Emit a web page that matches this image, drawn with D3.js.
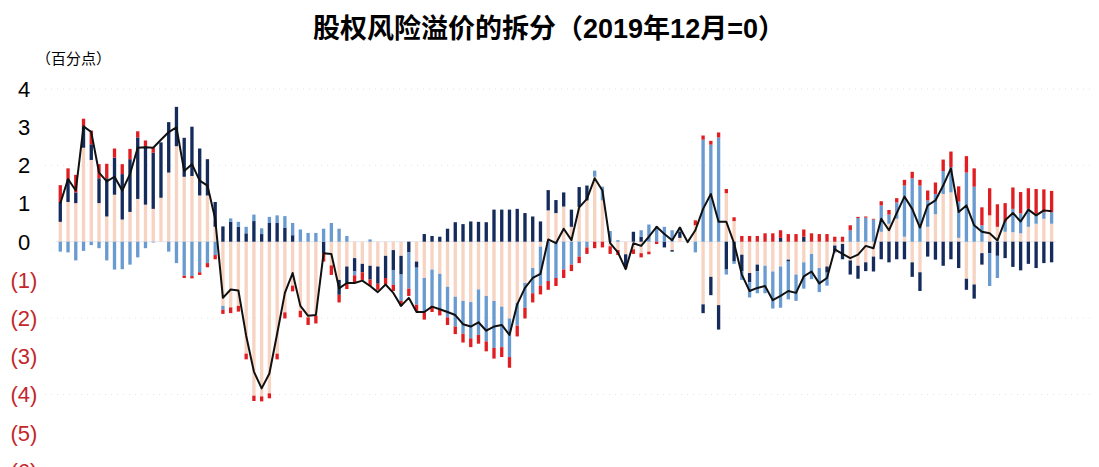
<!DOCTYPE html>
<html>
<head>
<meta charset="utf-8">
<script src="https://cdn.jsdelivr.net/npm/d3@7"></script>
<style>
  body { margin: 0; background: #fff; }
  svg { display: block; }
</style>
</head>
<body>
<div class="canvas"></div>
<script>
const dims = { width: 1099, height: 467 }

// 四个分项（按堆叠顺序）+ 合计线，月度
const partA = [0.52,1.04,1.01,2.46,2.14,1.01,0.66,1.23,0.58,0.78,1.12,0.97,0.86,1.15,1.81,2.50,
  1.70,1.72,1.21,1.21,0.39,-1.68,-1.72,-1.68,-2.93,-4.03,-4.05,-3.97,-2.93,-1.85,-1.15,-1.81,
  -1.98,-1.94,0,-0.62,-1.00,-0.65,-0.43,-0.58,-0.63,-0.65,-0.37,-0.22,-0.37,0,-0.52,-0.95,
  -0.73,-0.84,-1.18,-1.44,-1.55,-1.58,-1.25,-1.42,-1.55,-1.70,-2.01,-1.60,-1.08,-0.69,-0.13,0.82,
  0.75,0.92,0.39,0.91,1.08,1.70,1.08,-0.12,-0.22,-0.33,-0.20,-0.30,-0.26,0,0,-0.22,
  0.10,0,0.43,-1.64,-0.92,-1.66,1.27,0.54,-0.34,-0.82,-0.60,-0.63,-0.78,-0.65,-0.47,-0.86,
  -0.54,-0.32,-0.69,-0.65,-0.10,-0.06,-0.49,-0.63,-0.54,-0.39,0.26,0.47,0.60,0.13,-0.54,-0.80,
  0.39,0.72,1.25,1.29,0.10,-0.97,-1.12,-0.30,0.69,0.39,0.26,0.25,0.22,0.39,0.47,0.60,0.47]

const partB = [0.52,0.60,0.28,0.56,0.41,0.65,1.00,0.97,1.19,1.38,1.61,1.53,1.47,1.45,1.32,1.03,
  1.02,1.29,1.23,0.95,0.65,0.40,0.52,0.39,0.22,0.54,0.20,0.49,0.49,0.36,0.17,0,
  0,0,-0.30,0,-0.39,-0.43,-0.35,-0.22,-0.36,-0.45,-0.58,-0.52,-0.49,-0.28,-0.16,0.20,
  0.15,0.13,0.34,0.51,0.46,0.53,0.52,0.51,0.84,0.84,0.84,0.86,0.75,0.66,0.53,0.53,
  0.34,0.37,0.45,0.52,0.39,0,0,0,0,-0.32,0.26,0.13,0,0,-0.15,-0.04,
  0.17,0,0,-0.23,-0.48,-0.64,-0.73,-0.52,-0.43,-0.24,-0.17,0,0,0.10,-0.05,0,
  0.13,0,0,-0.16,-0.14,-0.40,-0.37,-0.34,-0.23,-0.39,-0.46,-0.54,-0.46,-0.46,-0.38,-0.49,
  -0.39,-0.47,-0.63,-0.46,-0.69,-0.29,-0.37,-0.30,-0.30,-0.37,-0.43,-0.66,-0.75,-0.58,-0.69,-0.56,-0.54]

const partC = [-0.26,-0.28,-0.49,-0.24,-0.09,-0.17,-0.49,-0.73,-0.72,-0.60,-0.41,-0.17,-0.02,0,-0.26,-0.56,
  -0.89,-0.90,-0.80,-0.56,-0.35,-0.10,0.09,0.13,0.17,0.17,0.15,0.16,0.20,0.31,0.32,0.32,
  0.23,0.23,0.34,0.49,0.34,0.15,-0.10,0,0.06,0,0,-0.39,-0.69,-0.95,-0.97,-0.90,
  -0.95,-0.93,-0.80,-0.78,-0.86,-0.95,-1.19,-1.19,-1.23,-1.06,-1.01,-0.60,-0.65,-0.66,-1.02,-1.03,
  -0.95,-0.73,-0.60,-0.39,-0.15,0.16,0.36,0.28,0.04,0,0,0.17,0.45,0.40,0.39,0.30,
  0.10,0,-0.28,2.67,2.54,2.73,-0.13,-0.06,-0.23,-0.40,-0.58,-0.72,-0.97,-1.08,-0.99,-0.69,
  -0.69,-0.66,-0.63,-0.34,-0.05,0,0.30,0.62,0.63,0.58,0.69,0.24,0.43,1.34,1.66,1.47,
  0.69,0.53,0.60,0.66,0.95,1.81,1.44,0.43,-0.86,-0.58,0.26,0.61,0.52,0.47,0.26,0.17,0.30]

const partD = [0.44,0.28,0.46,0.20,0.36,0.37,0.38,0.24,0.26,0.27,0.16,0.15,0.13,0,0,0,
  -0.06,-0.06,-0.07,-0.11,-0.11,-0.11,-0.15,-0.15,-0.15,-0.14,-0.13,-0.13,-0.15,-0.16,-0.15,-0.17,
  -0.20,-0.20,-0.22,-0.25,-0.20,-0.16,-0.18,-0.20,-0.17,-0.16,-0.17,-0.16,-0.13,-0.19,-0.17,-0.19,
  -0.16,-0.16,-0.20,-0.20,-0.23,-0.23,-0.23,-0.26,-0.28,-0.26,-0.28,-0.28,-0.28,-0.24,-0.23,-0.23,
  -0.21,-0.22,-0.17,-0.17,-0.17,-0.17,-0.15,-0.20,-0.13,-0.05,-0.12,-0.11,-0.07,-0.06,0,0,
  0,0,0.13,0.11,0.10,0.13,0.11,0.10,0.15,0.15,0.15,0.22,0.22,0.20,0.20,0.20,
  0.19,0.22,0.20,0.20,0.13,0.13,0.13,0.03,0.03,0.02,0.11,0.12,0.11,0.15,0.17,0.15,
  0.26,0.30,0.30,0.41,0.40,0.43,0.48,0.47,0.71,0.59,0.49,0.56,0.56,0.54,0.65,0.60,0.56]

const total = [1.00,1.64,1.34,3.02,2.87,1.81,1.58,1.70,1.34,1.77,2.46,2.47,2.46,2.67,2.87,2.99,
  1.85,2.03,1.60,1.47,0.60,-1.47,-1.25,-1.28,-2.46,-3.40,-3.84,-3.45,-2.41,-1.34,-0.82,-1.68,
  -1.94,-1.92,-0.30,-0.32,-1.22,-1.08,-1.08,-1.02,-1.16,-1.32,-1.12,-1.34,-1.68,-1.47,-1.84,-1.84,
  -1.70,-1.77,-1.84,-1.92,-2.16,-2.22,-2.11,-2.33,-2.22,-2.18,-2.44,-1.64,-1.21,-0.95,-0.84,0.06,
  -0.04,0.34,0.04,0.90,1.12,1.66,1.34,-0.04,-0.28,-0.72,-0.04,-0.11,0.13,0.39,0.20,0.04,
  0.37,-0.01,0.30,0.86,1.25,0.52,0.52,-0.04,-0.86,-1.29,-1.21,-1.16,-1.53,-1.42,-1.29,-1.34,
  -0.91,-0.78,-1.09,-0.95,-0.20,-0.32,-0.43,-0.34,-0.11,-0.17,0.60,0.30,0.75,1.18,0.86,0.37,
  0.95,1.08,1.47,1.92,0.78,0.95,0.43,0.26,0.22,0.03,0.56,0.75,0.53,0.84,0.69,0.82,0.80]

const yTicks = [4, 3, 2, 1, 0, -1, -2, -3, -4, -5, -6]
const gridTicks = [4, 2, -2, -4, -6]

// 标题分段：数字用西文粗体
const titleParts = [
  { t: '股权风险溢价的拆分（', num: false },
  { t: '2019', num: true },
  { t: '年', num: false },
  { t: '12', num: true },
  { t: '月', num: false },
  { t: '=0', num: true },
  { t: '）', num: false }
]

const keys = ['a', 'b', 'c', 'd']
const color = d3.scaleOrdinal()
  .domain(keys)
  .range(['#f7d3c2', '#142b5c', '#6a9bd0', '#e01e22'])

const rows = partA.map((v, i) => ({ i, a: v, b: partB[i], c: partC[i], d: partD[i] }))

const svg = d3.select('.canvas')
  .append('svg')
  .attr('width', dims.width)
  .attr('height', dims.height)

const x = d3.scaleBand()
  .domain(rows.map(d => d.i))
  .range([56.3, 1055.6])
  .paddingInner(0.57)
  .paddingOuter(0.3)

const y = d3.scaleLinear()
  .domain([-6, 4])
  .range([470.9, 88.9])

// faint dotted grid
svg.append('g')
  .selectAll('line')
  .data(gridTicks)
  .enter().append('line')
  .attr('x1', 45).attr('x2', 1095)
  .attr('y1', d => y(d)).attr('y2', d => y(d))
  .attr('stroke', '#e4e4e4')
  .attr('stroke-width', 1)
  .attr('stroke-dasharray', '1,5')

// zero line
svg.append('line')
  .attr('x1', 56).attr('x2', 1056)
  .attr('y1', y(0)).attr('y2', y(0))
  .attr('stroke', '#e3e7ee')
  .attr('stroke-width', 1)

// stacked bars
const stack = d3.stack().keys(keys).offset(d3.stackOffsetDiverging)
const series = stack(rows)

svg.append('g')
  .selectAll('g')
  .data(series)
  .enter().append('g')
  .attr('fill', d => color(d.key))
  .selectAll('rect')
  .data(d => d)
  .enter().append('rect')
  .attr('x', d => x(d.data.i))
  .attr('width', x.bandwidth())
  .attr('y', d => y(Math.max(d[0], d[1])))
  .attr('height', d => Math.abs(y(d[0]) - y(d[1])))

// total line
const line = d3.line()
  .x((d, i) => x(i) + x.bandwidth() / 2)
  .y(d => y(d))

svg.append('path')
  .datum(total)
  .attr('fill', 'none')
  .attr('stroke', '#111')
  .attr('stroke-width', 2)
  .attr('stroke-linejoin', 'round')
  .attr('d', line)

// y tick labels
svg.append('g')
  .selectAll('text')
  .data(yTicks)
  .enter().append('text')
  .attr('x', 24)
  .attr('y', d => y(d))
  .attr('dy', '0.36em')
  .attr('text-anchor', 'middle')
  .attr('font-family', '"Liberation Sans", Arial, sans-serif')
  .attr('font-size', 22)
  .attr('fill', d => d < 0 ? '#c3272b' : '#000')
  .text(d => d < 0 ? `(${-d})` : d)

// unit label
svg.append('text')
  .attr('x', 36).attr('y', 64)
  .attr('font-family', '"Noto Sans CJK SC", sans-serif')
  .attr('font-size', 15)
  .attr('fill', '#000')
  .text('（百分点）')

// title
svg.append('text')
  .attr('x', 549).attr('y', 38)
  .attr('text-anchor', 'middle')
  .attr('font-size', 27)
  .attr('font-weight', 'bold')
  .attr('fill', '#000')
  .selectAll('tspan')
  .data(titleParts)
  .enter().append('tspan')
  .attr('font-family', d => d.num ? '"Liberation Sans", Arial, sans-serif' : '"Noto Sans CJK SC", sans-serif')
  .text(d => d.t)
</script>
</body>
</html>
